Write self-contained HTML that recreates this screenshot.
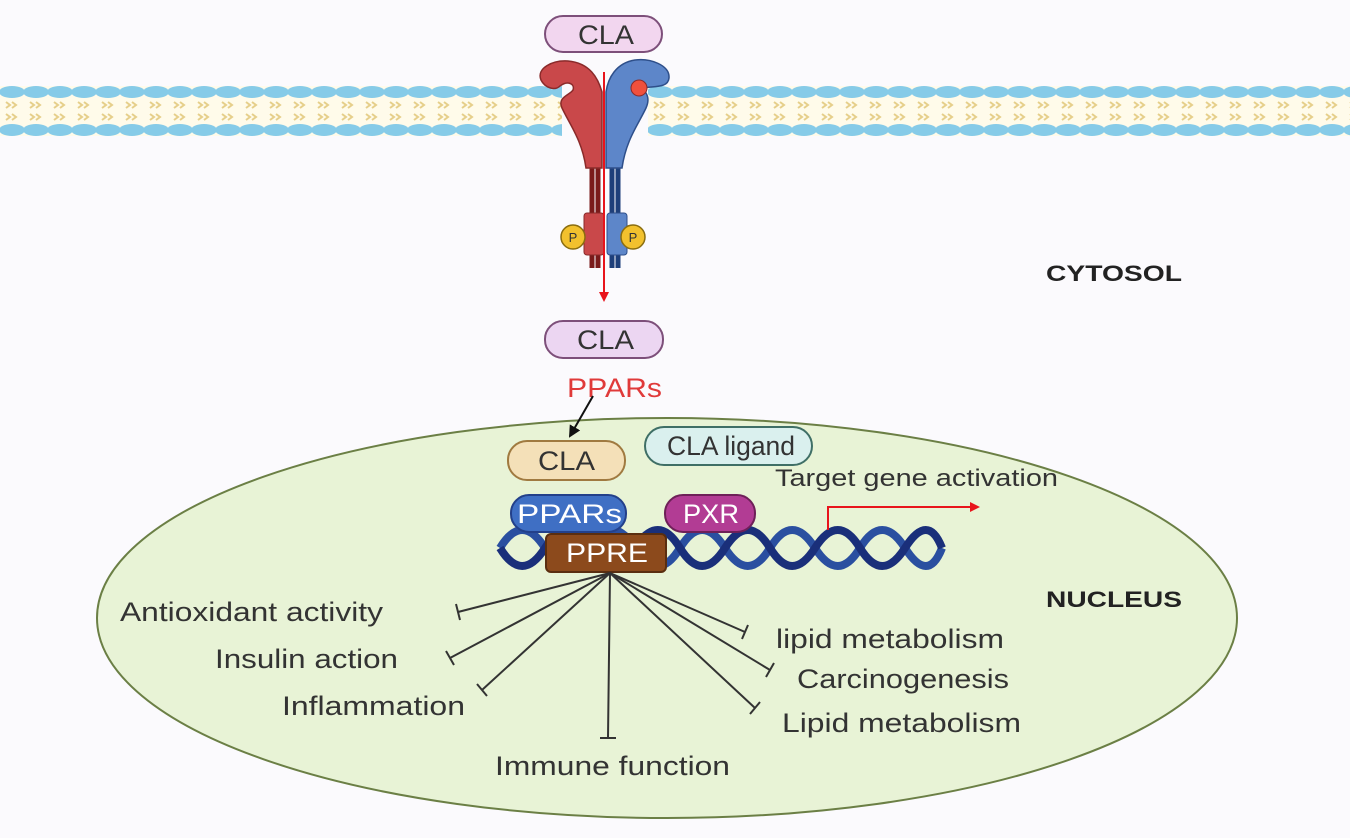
<!DOCTYPE html>
<html><head><meta charset="utf-8"><style>
html,body{margin:0;padding:0;background:#fbfafd;}
svg{display:block;font-family:"Liberation Sans",sans-serif;}
</style></head><body>
<svg width="1350" height="838" viewBox="0 0 1350 838" xmlns="http://www.w3.org/2000/svg">
<defs>
<pattern id="mem" x="0" y="86" width="24" height="50" patternUnits="userSpaceOnUse">
<rect width="24" height="50" fill="#fffbea"/>
<ellipse cx="12" cy="6" rx="13" ry="6" fill="#86cbe8"/>
<ellipse cx="12" cy="44" rx="13" ry="6" fill="#86cbe8"/>
<path d="M6,16 l4,3 l-4,3 M12,16 l4,3 l-4,3 M6,28 l4,3 l-4,3 M12,28 l4,3 l-4,3" stroke="#e6cf8a" stroke-width="2" fill="none"/>
</pattern>
<marker id="ar" markerWidth="10" markerHeight="10" refX="8" refY="5" orient="auto" markerUnits="userSpaceOnUse"><path d="M0,0 L10,5 L0,10 z" fill="#e8141c"/></marker>
<marker id="ak" markerWidth="12" markerHeight="12" refX="10" refY="6" orient="auto" markerUnits="userSpaceOnUse"><path d="M0,0 L12,6 L0,12 z" fill="#111"/></marker>
</defs>
<rect width="1350" height="838" fill="#fbfafd"/>
<rect x="0" y="86" width="562" height="50" fill="url(#mem)"/>
<rect x="648" y="86" width="702" height="50" fill="url(#mem)"/>
<ellipse cx="667" cy="618" rx="570" ry="200" fill="#e8f3d6" stroke="#6b7f45" stroke-width="2"/>
<path d="M598,165 L598,268 M592,165 L592,268" stroke="#7a1a1a" stroke-width="5"/>
<rect x="584" y="213" width="20" height="42" rx="3" fill="#c9484a" stroke="#8a2a2a"/>
<path d="M612,165 L612,268 M618,165 L618,268" stroke="#1e3f7a" stroke-width="5"/>
<rect x="607" y="213" width="20" height="42" rx="3" fill="#5d86c9" stroke="#2e4f8a"/>
<path d="M602,168 L586,168 C582,140 570,125 562,108 C557,97 570,95 573,90 C575,84 568,80 560,86 C555,91 545,88 541,80 C536,68 553,60 568,61 C590,63 598,78 602,92 Z" fill="#c9484a" stroke="#8a2a2a" stroke-width="1.5"/>
<path d="M606,168 L622,168 C626,140 638,125 646,108 C651,97 645,92 643,88 C655,86 668,88 669,78 C670,65 650,58 635,60 C616,63 608,78 606,92 Z" fill="#5d86c9" stroke="#2e4f8a" stroke-width="1.5"/>
<circle cx="639" cy="88" r="8" fill="#f0503c" stroke="#8a2a2a"/>
<circle cx="573" cy="237" r="12" fill="#f2c12e" stroke="#8a6d10" stroke-width="1.5"/>
<text x="573" y="242" font-size="13" text-anchor="middle" fill="#333">P</text>
<circle cx="633" cy="237" r="12" fill="#f2c12e" stroke="#8a6d10" stroke-width="1.5"/>
<text x="633" y="242" font-size="13" text-anchor="middle" fill="#333">P</text>
<line x1="604" y1="72" x2="604" y2="300" stroke="#e8141c" stroke-width="2" marker-end="url(#ar)"/>
<rect x="545" y="16" width="117" height="36" rx="18" fill="#f2d6ef" stroke="#7d4f7a" stroke-width="2"/>
<text x="578" y="44" font-size="27" textLength="56" lengthAdjust="spacingAndGlyphs" fill="#333">CLA</text>
<rect x="545" y="321" width="118" height="37" rx="18" fill="#ecd6f2" stroke="#7d4f7a" stroke-width="2"/>
<text x="577" y="349" font-size="27" textLength="57" lengthAdjust="spacingAndGlyphs" fill="#333">CLA</text>
<text x="567" y="397" font-size="27" textLength="95" lengthAdjust="spacingAndGlyphs" fill="#e03a3a">PPARs</text>
<line x1="593" y1="396" x2="570" y2="436" stroke="#111" stroke-width="2" marker-end="url(#ak)"/>
<rect x="508" y="441" width="117" height="39" rx="19" fill="#f4e0b8" stroke="#a07a40" stroke-width="2"/>
<text x="538" y="470" font-size="27" textLength="57" lengthAdjust="spacingAndGlyphs" fill="#333">CLA</text>
<rect x="645" y="427" width="167" height="38" rx="19" fill="#daf0ee" stroke="#3f6f66" stroke-width="2"/>
<text x="667" y="455" font-size="27" textLength="128" lengthAdjust="spacingAndGlyphs" fill="#333">CLA ligand</text>
<text x="775" y="486" font-size="24" textLength="283" lengthAdjust="spacingAndGlyphs" fill="#333">Target gene activation</text>
<path d="M500,548 Q522,512 545,548 T590,548 T635,548 T680,548 T725,548 T770,548 T815,548 T860,548 T905,548 T942,548" stroke="#2a4fa0" stroke-width="8" fill="none"/>
<path d="M500,548 Q522,584 545,548 T590,548 T635,548 T680,548 T725,548 T770,548 T815,548 T860,548 T905,548 T942,548" stroke="#1a2f7a" stroke-width="8" fill="none"/>
<polyline points="828,530 828,507 978,507" stroke="#e8141c" stroke-width="2" fill="none" marker-end="url(#ar)"/>
<rect x="511" y="495" width="115" height="37" rx="18" fill="#3f6fc4" stroke="#23408a" stroke-width="2"/>
<text x="517" y="523" font-size="27" textLength="105" lengthAdjust="spacingAndGlyphs" fill="#fff">PPARs</text>
<rect x="665" y="495" width="90" height="37" rx="18" fill="#b23c94" stroke="#6e2058" stroke-width="2"/>
<text x="683" y="523" font-size="27" textLength="56" lengthAdjust="spacingAndGlyphs" fill="#fff">PXR</text>
<rect x="546" y="534" width="120" height="38" rx="5" fill="#8c4a1c" stroke="#5a2e10" stroke-width="2"/>
<text x="566" y="562" font-size="27" textLength="82" lengthAdjust="spacingAndGlyphs" fill="#fff">PPRE</text>
<g stroke="#333" stroke-width="2" fill="none">
<path d="M610,573 L458,612 M456,604 L460,620"/>
<path d="M610,573 L450,658 M446,651 L454,665"/>
<path d="M610,573 L482,690 M477,684 L487,696"/>
<path d="M610,573 L608,738 M600,738 L616,738"/>
<path d="M610,573 L745,632 M748,625 L742,639"/>
<path d="M610,573 L770,670 M774,663 L766,677"/>
<path d="M610,573 L755,708 M760,702 L750,714"/>
</g>
<g font-size="27" fill="#333">
<text x="120" y="621" textLength="263" lengthAdjust="spacingAndGlyphs">Antioxidant activity</text>
<text x="215" y="668" textLength="183" lengthAdjust="spacingAndGlyphs">Insulin action</text>
<text x="282" y="715" textLength="183" lengthAdjust="spacingAndGlyphs">Inflammation</text>
<text x="495" y="775" textLength="235" lengthAdjust="spacingAndGlyphs">Immune function</text>
<text x="776" y="648" textLength="228" lengthAdjust="spacingAndGlyphs">lipid metabolism</text>
<text x="797" y="688" textLength="212" lengthAdjust="spacingAndGlyphs">Carcinogenesis</text>
<text x="782" y="732" textLength="239" lengthAdjust="spacingAndGlyphs">Lipid metabolism</text>
</g>
<text x="1046" y="281" font-size="22" font-weight="bold" textLength="136" lengthAdjust="spacingAndGlyphs" fill="#222">CYTOSOL</text>
<text x="1046" y="607" font-size="22" font-weight="bold" textLength="136" lengthAdjust="spacingAndGlyphs" fill="#222">NUCLEUS</text>
</svg>
</body></html>
